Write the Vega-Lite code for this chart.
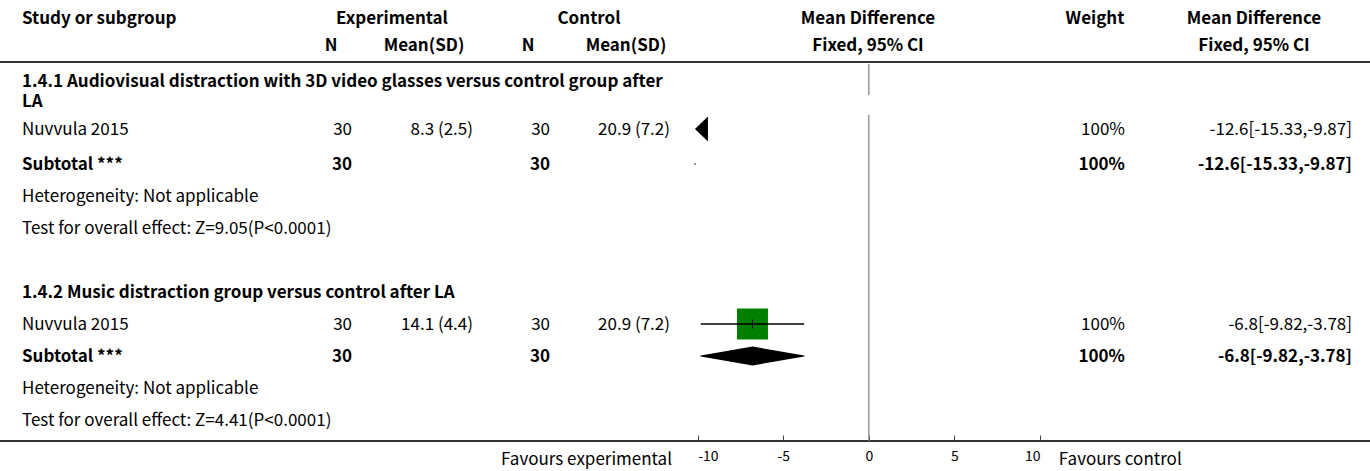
{
  "$schema": "https://vega.github.io/schema/vega-lite/v6.json",
  "width": 1370,
  "height": 441,
  "autosize": "none",
  "padding": {"left": 0, "top": 0, "right": 0, "bottom": 30},
  "background": "#ffffff",
  "config": {
    "view": {"stroke": null},
    "font": "Noto Sans CJK SC",
    "text": {"font": "Noto Sans CJK SC", "fontSize": 17, "color": "#000000", "baseline": "middle", "dy": 1},
    "axisX": {"domain": false, "grid": false, "tickSize": -6, "tickColor": "#444444", "tickWidth": 1,
              "labelFlush": true, "labelFontSize": 14, "labelFont": "Noto Sans CJK SC", "labelColor": "#000000",
              "labelPadding": 14, "labelOverlap": false, "labelExpr": "'' + datum.value"}
  },
  "datasets": {
    "cells": [
      {"row": 2, "col": 0, "kind": "group", "text": "1.4.1 Audiovisual distraction with 3D video glasses versus control group after\nLA"},
      {"row": 3, "col": 0, "kind": "study", "text": "Nuvvula 2015"},
      {"row": 3, "col": 1, "kind": "study", "text": "30"},
      {"row": 3, "col": 2, "kind": "study", "text": "8.3 (2.5)"},
      {"row": 3, "col": 3, "kind": "study", "text": "30"},
      {"row": 3, "col": 4, "kind": "study", "text": "20.9 (7.2)"},
      {"row": 3, "col": 6, "kind": "study", "text": "100%"},
      {"row": 3, "col": 7, "kind": "study", "text": "-12.6[-15.33,-9.87]"},
      {"row": 4, "col": 0, "kind": "subtotal", "text": "Subtotal ***"},
      {"row": 4, "col": 1, "kind": "subtotal", "text": "30"},
      {"row": 4, "col": 3, "kind": "subtotal", "text": "30"},
      {"row": 4, "col": 6, "kind": "subtotal", "text": "100%"},
      {"row": 4, "col": 7, "kind": "subtotal", "text": "-12.6[-15.33,-9.87]"},
      {"row": 5, "col": 0, "kind": "note", "text": "Heterogeneity: Not applicable"},
      {"row": 6, "col": 0, "kind": "note", "text": "Test for overall effect: Z=9.05(P<0.0001)"},
      {"row": 8, "col": 0, "kind": "group", "text": "1.4.2 Music distraction group versus control after LA"},
      {"row": 9, "col": 0, "kind": "study", "text": "Nuvvula 2015"},
      {"row": 9, "col": 1, "kind": "study", "text": "30"},
      {"row": 9, "col": 2, "kind": "study", "text": "14.1 (4.4)"},
      {"row": 9, "col": 3, "kind": "study", "text": "30"},
      {"row": 9, "col": 4, "kind": "study", "text": "20.9 (7.2)"},
      {"row": 9, "col": 6, "kind": "study", "text": "100%"},
      {"row": 9, "col": 7, "kind": "study", "text": "-6.8[-9.82,-3.78]"},
      {"row": 10, "col": 0, "kind": "subtotal", "text": "Subtotal ***"},
      {"row": 10, "col": 1, "kind": "subtotal", "text": "30"},
      {"row": 10, "col": 3, "kind": "subtotal", "text": "30"},
      {"row": 10, "col": 6, "kind": "subtotal", "text": "100%"},
      {"row": 10, "col": 7, "kind": "subtotal", "text": "-6.8[-9.82,-3.78]"},
      {"row": 11, "col": 0, "kind": "note", "text": "Heterogeneity: Not applicable"},
      {"row": 12, "col": 0, "kind": "note", "text": "Test for overall effect: Z=4.41(P<0.0001)"}
    ],
    "headers": [
      {"row": 0, "col": 0, "text": "Study or subgroup"},
      {"row": 0, "col": 1.5, "text": "Experimental"},
      {"row": 0, "col": 3.5, "text": "Control"},
      {"row": 0, "col": 5, "text": "Mean Difference"},
      {"row": 0, "col": 6, "text": "Weight"},
      {"row": 0, "col": 7, "text": "Mean Difference"},
      {"row": 1, "col": 1, "text": "N"},
      {"row": 1, "col": 2, "text": "Mean(SD)"},
      {"row": 1, "col": 3, "text": "N"},
      {"row": 1, "col": 4, "text": "Mean(SD)"},
      {"row": 1, "col": 5, "text": "Fixed, 95% CI"},
      {"row": 1, "col": 7, "text": "Fixed, 95% CI"}
    ],
    "studies": [
      {"row": 3, "kind": "study", "md": -12.6, "lo": -15.33, "hi": -9.87},
      {"row": 4, "kind": "subtotal", "md": -12.6, "lo": -15.33, "hi": -9.87},
      {"row": 9, "kind": "study", "md": -6.8, "lo": -9.82, "hi": -3.78},
      {"row": 10, "kind": "subtotal", "md": -6.8, "lo": -9.82, "hi": -3.78}
    ],
    "favours": [
      {"side": "left", "text": "Favours experimental"},
      {"side": "right", "text": "Favours control"}
    ]
  },
  "resolve": {"scale": {"x": "independent"}},
  "layer": [
    {
      "data": {"name": "cells"},
      "layer": [
        {"transform": [{"filter": "datum.col == 0 && datum.kind != 'group' && datum.kind != 'subtotal'"}],
         "mark": {"type": "text", "align": "left"},
         "encoding": {
           "x": {"field": "col", "type": "quantitative", "axis": null, "scale": {"domain": [0, 1, 2, 3, 4, 5, 6, 7], "range": [22, 352, 473, 550, 670, 868, 1125, 1352], "zero": false, "nice": false}},
           "y": {"field": "row", "type": "quantitative", "axis": null, "scale": {"domain": [0, 1, 1.5, 2, 3, 4, 12, 13, 14], "range": [18, 45, 62, 81, 129, 164, 420, 441, 459], "zero": false, "nice": false}},
           "text": {"field": "text"}}},
        {"transform": [{"filter": "datum.col == 0 && (datum.kind == 'group' || datum.kind == 'subtotal')"}],
         "mark": {"type": "text", "align": "left", "fontWeight": "bold", "lineBreak": "\n", "lineHeight": 20},
         "encoding": {
           "x": {"field": "col", "type": "quantitative", "axis": null, "scale": {"domain": [0, 1, 2, 3, 4, 5, 6, 7], "range": [22, 352, 473, 550, 670, 868, 1125, 1352], "zero": false, "nice": false}},
           "y": {"field": "row", "type": "quantitative", "axis": null, "scale": {"domain": [0, 1, 1.5, 2, 3, 4, 12, 13, 14], "range": [18, 45, 62, 81, 129, 164, 420, 441, 459], "zero": false, "nice": false}},
           "text": {"field": "text"}}},
        {"transform": [{"filter": "datum.col > 0 && datum.kind != 'subtotal'"}],
         "mark": {"type": "text", "align": "right"},
         "encoding": {
           "x": {"field": "col", "type": "quantitative", "axis": null, "scale": {"domain": [0, 1, 2, 3, 4, 5, 6, 7], "range": [22, 352, 473, 550, 670, 868, 1125, 1352], "zero": false, "nice": false}},
           "y": {"field": "row", "type": "quantitative", "axis": null, "scale": {"domain": [0, 1, 1.5, 2, 3, 4, 12, 13, 14], "range": [18, 45, 62, 81, 129, 164, 420, 441, 459], "zero": false, "nice": false}},
           "text": {"field": "text"}}},
        {"transform": [{"filter": "datum.col > 0 && datum.kind == 'subtotal'"}],
         "mark": {"type": "text", "align": "right", "fontWeight": "bold"},
         "encoding": {
           "x": {"field": "col", "type": "quantitative", "axis": null, "scale": {"domain": [0, 1, 2, 3, 4, 5, 6, 7], "range": [22, 352, 473, 550, 670, 868, 1125, 1352], "zero": false, "nice": false}},
           "y": {"field": "row", "type": "quantitative", "axis": null, "scale": {"domain": [0, 1, 1.5, 2, 3, 4, 12, 13, 14], "range": [18, 45, 62, 81, 129, 164, 420, 441, 459], "zero": false, "nice": false}},
           "text": {"field": "text"}}}
      ]
    },
    {
      "data": {"name": "headers"},
      "layer": [
        {"transform": [{"filter": "datum.col == 0"}],
         "mark": {"type": "text", "align": "left", "fontWeight": "bold"},
         "encoding": {
           "x": {"field": "col", "type": "quantitative", "axis": null, "scale": {"domain": [0, 1, 1.5, 2, 3, 3.5, 4, 5, 6, 7], "range": [22, 331, 392, 424, 528, 589, 626, 868, 1095, 1254], "zero": false, "nice": false}},
           "y": {"field": "row", "type": "quantitative", "axis": null, "scale": {"domain": [0, 1, 1.5, 2, 3, 4, 12, 13, 14], "range": [18, 45, 62, 81, 129, 164, 420, 441, 459], "zero": false, "nice": false}},
           "text": {"field": "text"}}},
        {"transform": [{"filter": "datum.col > 0"}],
         "mark": {"type": "text", "align": "center", "fontWeight": "bold"},
         "encoding": {
           "x": {"field": "col", "type": "quantitative", "axis": null, "scale": {"domain": [0, 1, 1.5, 2, 3, 3.5, 4, 5, 6, 7], "range": [22, 331, 392, 424, 528, 589, 626, 868, 1095, 1254], "zero": false, "nice": false}},
           "y": {"field": "row", "type": "quantitative", "axis": null, "scale": {"domain": [0, 1, 1.5, 2, 3, 4, 12, 13, 14], "range": [18, 45, 62, 81, 129, 164, 420, 441, 459], "zero": false, "nice": false}},
           "text": {"field": "text"}}}
      ]
    },
    {
      "data": {"values": [{"line": "header"}, {"line": "footer"}]},
      "layer": [
        {"transform": [{"filter": "datum.line == 'header'"}],
         "mark": {"type": "rule", "color": "#333333", "strokeWidth": 2},
         "encoding": {"y": {"datum": 1.5, "type": "quantitative", "axis": null, "scale": {"domain": [0, 1, 1.5, 2, 3, 4, 12, 13, 14], "range": [18, 45, 62, 81, 129, 164, 420, 441, 459], "zero": false, "nice": false}}}},
        {"transform": [{"filter": "datum.line == 'footer'"}],
         "mark": {"type": "rule", "color": "#333333", "strokeWidth": 2},
         "encoding": {"y": {"datum": 13, "type": "quantitative", "axis": null, "scale": {"domain": [0, 1, 1.5, 2, 3, 4, 12, 13, 14], "range": [18, 45, 62, 81, 129, 164, 420, 441, 459], "zero": false, "nice": false}}}}
      ]
    },
    {
      "data": {"name": "studies"},
      "layer": [
        {"transform": [{"filter": "datum.kind == 'study' && datum.row == 3"}],
         "mark": {"type": "rule", "color": "#888888", "strokeWidth": 1.3},
         "encoding": {
           "x": {"datum": 0, "type": "quantitative", "scale": {"domain": [-10, 10], "range": [697.7, 1040], "zero": false, "nice": false}, "axis": {"values": [-10, -5, 0, 5, 10], "title": null}},
           "y": {"datum": 1.55, "type": "quantitative", "axis": null, "scale": {"domain": [0, 1, 1.5, 2, 3, 4, 12, 13, 14], "range": [18, 45, 62, 81, 129, 164, 420, 441, 459], "zero": false, "nice": false}},
           "y2": {"datum": 2.29}}},
        {"transform": [{"filter": "datum.kind == 'study' && datum.row == 3"}],
         "mark": {"type": "rule", "color": "#888888", "strokeWidth": 1.3},
         "encoding": {
           "x": {"datum": 0, "type": "quantitative", "scale": {"domain": [-10, 10], "range": [697.7, 1040], "zero": false, "nice": false}, "axis": {"values": [-10, -5, 0, 5, 10], "title": null}},
           "y": {"datum": 2.71, "type": "quantitative", "axis": null, "scale": {"domain": [0, 1, 1.5, 2, 3, 4, 12, 13, 14], "range": [18, 45, 62, 81, 129, 164, 420, 441, 459], "zero": false, "nice": false}},
           "y2": {"datum": 13}}},
        {"transform": [{"filter": "datum.kind == 'study' && datum.lo >= -10"}],
         "mark": {"type": "point", "shape": "square", "filled": true, "size": 961, "color": "#008000", "opacity": 1, "strokeWidth": 0},
         "encoding": {
           "x": {"field": "md", "type": "quantitative", "scale": {"domain": [-10, 10], "range": [697.7, 1040], "zero": false, "nice": false}, "axis": {"values": [-10, -5, 0, 5, 10], "title": null}},
           "y": {"field": "row", "type": "quantitative", "axis": null, "scale": {"domain": [0, 1, 1.5, 2, 3, 4, 12, 13, 14], "range": [18, 45, 62, 81, 129, 164, 420, 441, 459], "zero": false, "nice": false}}}},
        {"transform": [{"filter": "datum.kind == 'study' && datum.lo >= -10"}],
         "mark": {"type": "rule", "color": "#000000", "strokeWidth": 1.5},
         "encoding": {
           "x": {"field": "lo", "type": "quantitative", "scale": {"domain": [-10, 10], "range": [697.7, 1040], "zero": false, "nice": false}, "axis": {"values": [-10, -5, 0, 5, 10], "title": null}},
           "x2": {"field": "hi"},
           "y": {"field": "row", "type": "quantitative", "axis": null, "scale": {"domain": [0, 1, 1.5, 2, 3, 4, 12, 13, 14], "range": [18, 45, 62, 81, 129, 164, 420, 441, 459], "zero": false, "nice": false}}}},
        {"transform": [{"filter": "datum.kind == 'study' && datum.lo >= -10"}],
         "mark": {"type": "point", "shape": "M0,-1L0,1", "filled": false, "size": 81, "stroke": "#000000", "strokeWidth": 1, "opacity": 1},
         "encoding": {
           "x": {"field": "md", "type": "quantitative", "scale": {"domain": [-10, 10], "range": [697.7, 1040], "zero": false, "nice": false}, "axis": {"values": [-10, -5, 0, 5, 10], "title": null}},
           "y": {"field": "row", "type": "quantitative", "axis": null, "scale": {"domain": [0, 1, 1.5, 2, 3, 4, 12, 13, 14], "range": [18, 45, 62, 81, 129, 164, 420, 441, 459], "zero": false, "nice": false}}}},
        {"transform": [{"filter": "datum.kind == 'subtotal' && datum.lo >= -10"}, {"fold": ["lo", "md", "hi"], "as": ["pt", "val"]}],
         "mark": {"type": "trail", "color": "#000000"},
         "encoding": {
           "x": {"field": "val", "type": "quantitative", "scale": {"domain": [-10, 10], "range": [697.7, 1040], "zero": false, "nice": false}, "axis": {"values": [-10, -5, 0, 5, 10], "title": null}},
           "y": {"field": "row", "type": "quantitative", "axis": null, "scale": {"domain": [0, 1, 1.5, 2, 3, 4, 12, 13, 14], "range": [18, 45, 62, 81, 129, 164, 420, 441, 459], "zero": false, "nice": false}},
           "size": {"condition": {"test": "datum.pt == 'md'", "value": 19}, "value": 0},
           "order": {"field": "val", "type": "quantitative"}}},
        {"transform": [{"filter": "datum.kind == 'study' && datum.lo < -10"}],
         "mark": {"type": "point", "shape": "M-0.22,0L0.82,-1L0.82,1Z", "filled": true, "size": 625, "color": "#000000", "opacity": 1, "strokeWidth": 0},
         "encoding": {
           "x": {"datum": -10, "type": "quantitative", "scale": {"domain": [-10, 10], "range": [697.7, 1040], "zero": false, "nice": false}, "axis": {"values": [-10, -5, 0, 5, 10], "title": null}},
           "y": {"field": "row", "type": "quantitative", "axis": null, "scale": {"domain": [0, 1, 1.5, 2, 3, 4, 12, 13, 14], "range": [18, 45, 62, 81, 129, 164, 420, 441, 459], "zero": false, "nice": false}}}},
        {"transform": [{"filter": "datum.kind == 'subtotal' && datum.lo < -10"}],
         "mark": {"type": "point", "shape": "square", "filled": true, "size": 3, "color": "#666666", "opacity": 1, "strokeWidth": 0},
         "encoding": {
           "x": {"datum": -10.15, "type": "quantitative", "scale": {"domain": [-10, 10], "range": [697.7, 1040], "zero": false, "nice": false}, "axis": {"values": [-10, -5, 0, 5, 10], "title": null}},
           "y": {"field": "row", "type": "quantitative", "axis": null, "scale": {"domain": [0, 1, 1.5, 2, 3, 4, 12, 13, 14], "range": [18, 45, 62, 81, 129, 164, 420, 441, 459], "zero": false, "nice": false}}}},
        {"data": {"name": "favours"}, "transform": [{"filter": "datum.side == 'left'"}],
         "mark": {"type": "text", "align": "right", "fontSize": 17},
         "encoding": {
           "x": {"datum": -11.5, "type": "quantitative", "scale": {"domain": [-10, 10], "range": [697.7, 1040], "zero": false, "nice": false}, "axis": {"values": [-10, -5, 0, 5, 10], "title": null}},
           "y": {"datum": 14, "type": "quantitative", "axis": null, "scale": {"domain": [0, 1, 1.5, 2, 3, 4, 12, 13, 14], "range": [18, 45, 62, 81, 129, 164, 420, 441, 459], "zero": false, "nice": false}},
           "text": {"field": "text"}}},
        {"data": {"name": "favours"}, "transform": [{"filter": "datum.side == 'right'"}],
         "mark": {"type": "text", "align": "left", "fontSize": 17},
         "encoding": {
           "x": {"datum": 11.1, "type": "quantitative", "scale": {"domain": [-10, 10], "range": [697.7, 1040], "zero": false, "nice": false}, "axis": {"values": [-10, -5, 0, 5, 10], "title": null}},
           "y": {"datum": 14, "type": "quantitative", "axis": null, "scale": {"domain": [0, 1, 1.5, 2, 3, 4, 12, 13, 14], "range": [18, 45, 62, 81, 129, 164, 420, 441, 459], "zero": false, "nice": false}},
           "text": {"field": "text"}}}
      ]
    }
  ]
}
